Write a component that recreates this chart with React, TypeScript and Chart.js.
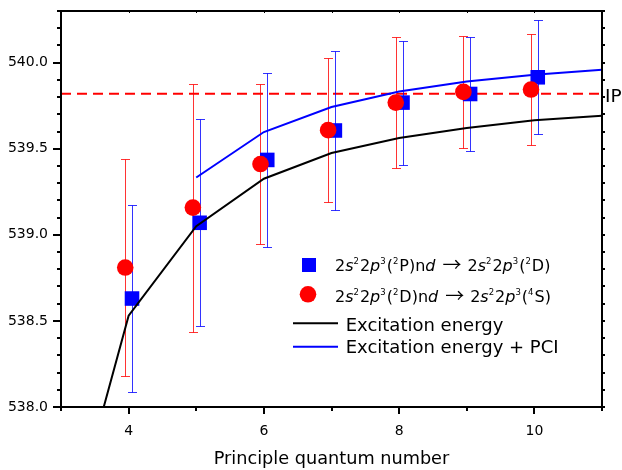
import React, { useEffect, useRef } from 'react';
import { Chart, registerables } from 'chart.js';

Chart.register(...registerables);

// ---- data ----
const blueX = [4.05, 5.05, 6.05, 7.05, 8.05, 9.05, 10.05];
const blueY = [538.63, 539.07, 539.435, 539.606, 539.768, 539.818, 539.915];
const blueErr = [0.543, 0.6, 0.505, 0.46, 0.36, 0.33, 0.33];

const redX = [3.95, 4.95, 5.95, 6.95, 7.95, 8.95, 9.95];
const redY = [538.81, 539.158, 539.411, 539.608, 539.768, 539.83, 539.844];
const redErr = [0.63, 0.72, 0.467, 0.42, 0.38, 0.327, 0.32];

const excN = [3, 4, 5, 6, 7, 8, 9, 10, 11];
const excE = [537.09, 538.53, 539.05, 539.326, 539.475, 539.562, 539.62, 539.665, 539.692];

const pciN = [5, 6, 7, 8, 9, 10, 11];
const pciE = [539.333, 539.597, 539.742, 539.833, 539.891, 539.93, 539.959];

const IP = 539.82;

const xTickLabels = [4, 6, 8, 10];
const yTickLabels = [538.0, 538.5, 539.0, 539.5, 540.0];

const FONT = '"DejaVu Sans"';

type Seg = [string, 'n' | 'i' | 'sup' | 'arr'];
const legendRow1: Seg[] = [
  ['2', 'n'], ['s', 'i'], ['2', 'sup'], ['2', 'n'], ['p', 'i'], ['3', 'sup'], ['(', 'n'], ['2', 'sup'], ['P)n', 'n'], ['d', 'i'],
  ['→', 'arr'],
  ['2', 'n'], ['s', 'i'], ['2', 'sup'], ['2', 'n'], ['p', 'i'], ['3', 'sup'], ['(', 'n'], ['2', 'sup'], ['D)', 'n'],
];
const legendRow2: Seg[] = [
  ['2', 'n'], ['s', 'i'], ['2', 'sup'], ['2', 'n'], ['p', 'i'], ['3', 'sup'], ['(', 'n'], ['2', 'sup'], ['D)n', 'n'], ['d', 'i'],
  ['→', 'arr'],
  ['2', 'n'], ['s', 'i'], ['2', 'sup'], ['2', 'n'], ['p', 'i'], ['3', 'sup'], ['(', 'n'], ['4', 'sup'], ['S)', 'n'],
];
const legendLine1 = 'Excitation energy';
const legendLine2 = 'Excitation energy + PCI';

function drawRich(ctx: CanvasRenderingContext2D, segs: Seg[], x: number, baseline: number) {
  let cx = x;
  ctx.textAlign = 'left';
  ctx.textBaseline = 'alphabetic';
  ctx.fillStyle = '#000';
  for (const [t, k] of segs) {
    let yb = baseline;
    if (k === 'n') ctx.font = `16px ${FONT}`;
    else if (k === 'i') ctx.font = `italic 16px ${FONT}`;
    else if (k === 'sup') { ctx.font = `8.5px ${FONT}`; yb = baseline - 7; }
    else { ctx.font = `19px "Noto Sans CJK JP"`; cx += 7; yb = baseline + 1; }
    ctx.fillText(t, cx, yb);
    cx += ctx.measureText(t).width + (k === 'sup' ? 1 : 0);
    if (k === 'arr') cx += 6;
  }
}

const decor = {
  id: 'decor',
  beforeDatasetsDraw(chart: any) {
    const { ctx, chartArea: ca, scales } = chart;
    const x = scales.x, y = scales.y;
    ctx.save();
    ctx.beginPath();
    ctx.rect(ca.left, ca.top, ca.right - ca.left, ca.bottom - ca.top);
    ctx.clip();
    // IP dashed line
    const yy = y.getPixelForValue(IP);
    ctx.strokeStyle = '#ff0000';
    ctx.lineWidth = 2;
    ctx.setLineDash([10, 6]);
    ctx.beginPath();
    ctx.moveTo(ca.left, yy);
    ctx.lineTo(ca.right, yy);
    ctx.stroke();
    ctx.setLineDash([]);
    // error bars
    const drawErr = (xs: number[], ys: number[], es: number[], color: string) => {
      ctx.strokeStyle = color;
      ctx.lineWidth = 1;
      for (let i = 0; i < xs.length; i++) {
        const px = Math.round(x.getPixelForValue(xs[i])) + 0.5;
        const pt = Math.round(y.getPixelForValue(ys[i] + es[i])) + 0.5;
        const pb = Math.round(y.getPixelForValue(ys[i] - es[i])) + 0.5;
        ctx.beginPath();
        ctx.moveTo(px, pt); ctx.lineTo(px, pb);
        ctx.moveTo(px - 4.5, pt); ctx.lineTo(px + 4.5, pt);
        ctx.moveTo(px - 4.5, pb); ctx.lineTo(px + 4.5, pb);
        ctx.stroke();
      }
    };
    drawErr(blueX, blueY, blueErr, 'rgba(0,0,255,0.8)');
    drawErr(redX, redY, redErr, 'rgba(255,0,0,0.8)');
    ctx.restore();
  },
  afterDraw(chart: any) {
    const { ctx, chartArea: ca, scales } = chart;
    const x = scales.x, y = scales.y;
    ctx.save();
    // frame
    ctx.strokeStyle = '#000';
    ctx.lineWidth = 2;
    ctx.strokeRect(ca.left, ca.top, ca.right - ca.left, ca.bottom - ca.top);
    // ticks
    ctx.lineWidth = 2;
    ctx.beginPath();
    for (let i = 0; i <= 23; i++) {
      const v = 538 + i * 0.1;
      const py = Math.round(y.getPixelForValue(v));
      const len = i % 5 === 0 ? 8 : 4;
      ctx.moveTo(ca.left, py); ctx.lineTo(ca.left - len, py);
      ctx.moveTo(ca.right, py); ctx.lineTo(ca.right + 3, py);
    }
    for (let n = 3; n <= 11; n++) {
      const px = Math.round(x.getPixelForValue(n));
      const len = n % 2 === 0 ? 7 : 4;
      ctx.moveTo(px, ca.bottom); ctx.lineTo(px, ca.bottom + len);
    }
    ctx.stroke();
    ctx.lineWidth = 1;
    ctx.beginPath();
    for (let n = 3; n <= 11; n++) {
      const px = Math.round(x.getPixelForValue(n)) + 0.5;
      ctx.moveTo(px, ca.top); ctx.lineTo(px, ca.top + 2);
    }
    ctx.stroke();
    // IP label
    ctx.fillStyle = '#000';
    ctx.font = `18.5px ${FONT}`;
    ctx.textAlign = 'left';
    ctx.textBaseline = 'alphabetic';
    ctx.fillText('IP', ca.right + 3, y.getPixelForValue(IP) + 8.5);
    // legend
    ctx.fillStyle = '#0000ff';
    ctx.fillRect(302, 258, 14, 14);
    ctx.fillStyle = '#ff0000';
    ctx.beginPath();
    ctx.arc(308, 294.3, 8.3, 0, Math.PI * 2);
    ctx.fill();
    ctx.lineWidth = 2;
    ctx.strokeStyle = '#000';
    ctx.beginPath(); ctx.moveTo(293, 323.3); ctx.lineTo(338, 323.3); ctx.stroke();
    ctx.strokeStyle = '#0000ff';
    ctx.beginPath(); ctx.moveTo(293, 346.7); ctx.lineTo(338, 346.7); ctx.stroke();
    drawRich(ctx, legendRow1, 335, 270.7);
    drawRich(ctx, legendRow2, 335, 301.7);
    ctx.fillStyle = '#000';
    ctx.font = `18px ${FONT}`;
    ctx.textBaseline = 'alphabetic';
    ctx.fillText(legendLine1, 345.7, 330.7);
    ctx.fillText(legendLine2, 345.7, 353.2);
    ctx.restore();
  },
};

export default function App() {
  const ref = useRef<HTMLCanvasElement>(null);
  useEffect(() => {
    if (!ref.current) return;
    const chart = new Chart(ref.current, {
      type: 'scatter',
      data: {
        datasets: [
          {
            type: 'line',
            label: legendLine1,
            data: excN.map((n, i) => ({ x: n, y: excE[i] })),
            borderColor: '#000000',
            borderWidth: 2,
            pointRadius: 0,
            tension: 0,
            fill: false,
            order: 0,
          } as any,
          {
            type: 'line',
            label: legendLine2,
            data: pciN.map((n, i) => ({ x: n, y: pciE[i] })),
            borderColor: '#0000ff',
            borderWidth: 2,
            pointRadius: 0,
            tension: 0,
            fill: false,
            order: 0,
          } as any,
          {
            label: '2s22p3(2D)nd → 2s22p3(4S)',
            data: redX.map((v, i) => ({ x: v, y: redY[i] })),
            pointStyle: 'circle',
            pointRadius: 8.3,
            backgroundColor: '#ff0000',
            borderWidth: 0,
            order: 1,
          },
          {
            label: '2s22p3(2P)nd → 2s22p3(2D)',
            data: blueX.map((v, i) => ({ x: v, y: blueY[i] })),
            pointStyle: 'rect',
            pointRadius: 10.3,
            backgroundColor: '#0000ff',
            borderWidth: 0,
            order: 2,
          },
        ],
      },
      options: {
        responsive: false,
        animation: false,
        layout: { padding: { left: 0, top: 11, right: 20, bottom: 0 } },
        plugins: { legend: { display: false }, tooltip: { enabled: false } },
        scales: {
          x: {
            type: 'linear',
            min: 3,
            max: 11,
            grid: { display: false, drawTicks: false },
            border: { display: false },
            ticks: {
              stepSize: 1,
              autoSkip: false,
              maxRotation: 0,
              padding: 16,
              color: '#000',
              font: { family: 'DejaVu Sans', size: 14 },
              callback: (v: any) => (xTickLabels.includes(Number(v)) ? String(v) : ''),
            },
            title: {
              display: true,
              text: 'Principle quantum number',
              color: '#000',
              font: { family: 'DejaVu Sans', size: 17.7 },
              padding: 0,
            },
            afterFit: (s: any) => { s.height = 63; s.paddingLeft = 0; s.paddingRight = 0; },
          },
          y: {
            type: 'linear',
            min: 538,
            max: 540.3,
            grid: { display: false, drawTicks: false },
            border: { display: false },
            ticks: {
              stepSize: 0.5,
              autoSkip: false,
              padding: 13,
              color: '#000',
              font: { family: 'DejaVu Sans', size: 14 },
              callback: (v: any) =>
                yTickLabels.some((t) => Math.abs(t - Number(v)) < 1e-6) ? Number(v).toFixed(1) : '',
            },
            afterFit: (s: any) => { s.width = 61; s.paddingTop = 0; s.paddingBottom = 0; },
          },
        },
      },
      plugins: [decor],
    });
    return () => chart.destroy();
  }, []);
  return (
    <div style={{ position: 'fixed', left: 0, top: 0, width: 622, height: 470, background: '#fff' }}>
      <canvas ref={ref} width={622} height={470} />
    </div>
  );
}
